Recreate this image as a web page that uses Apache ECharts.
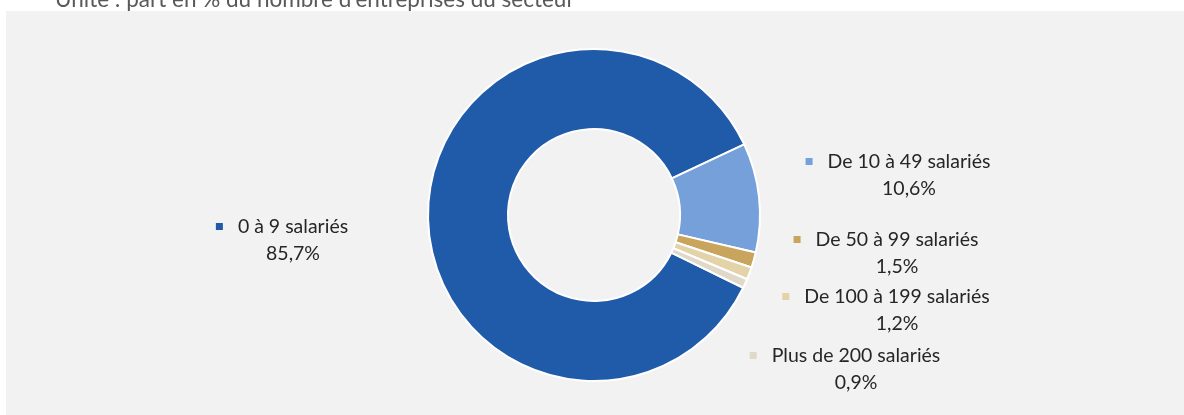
<!DOCTYPE html>
<html>
<head>
<meta charset="utf-8">
<script src="https://cdn.jsdelivr.net/npm/echarts@6/dist/echarts.min.js"></script>
<style>
html,body{margin:0;padding:0;background:#fff;}
#chart{width:1184px;height:415px;}
</style>
</head>
<body>
<div id="chart"></div>
<script>
const categories = ['0 à 9 salariés', 'De 10 à 49 salariés', 'De 50 à 99 salariés', 'De 100 à 199 salariés', 'Plus de 200 salariés'];
const values = [85.7, 10.6, 1.5, 1.2, 0.9];
const colors = ['#205BAA', '#75A0DA', '#C8A45C', '#E4D3A8', '#E0D9CA'];
const subtitle = "Unité : part en % du nombre d'entreprises du secteur";

const labelPos = [
  {x: 282, y: 240},
  {x: 898, y: 175},
  {x: 886, y: 253},
  {x: 886, y: 310},
  {x: 845, y: 369}
];

const FONT = 'Lato';
const FS = 19.5;
const LH = 27;
const OFF = 22;

const chart = echarts.init(document.getElementById('chart'));
const rich = {
  n: {fontFamily: FONT, fontSize: FS, color: '#262626', lineHeight: LH, padding: [0, 0, 0, OFF - 7]},
  v: {fontFamily: FONT, fontSize: FS, color: '#262626', lineHeight: LH, padding: [0, 0, 0, OFF]}
};
colors.forEach((c, i) => {
  rich['m' + i] = {width: 7, height: 7, backgroundColor: c, lineHeight: LH};
});

chart.setOption({
  animation: false,
  backgroundColor: '#ffffff',
  graphic: [
    {type: 'rect', shape: {x: 6, y: 11, width: 1178, height: 404}, style: {fill: '#F2F2F2'}, z: -10, silent: true},
    {type: 'text', x: 55, y: -0.5, style: {text: subtitle, fontFamily: FONT, fontSize: 22.5, fill: '#595959', verticalAlign: 'middle'}, silent: true}
  ],
  series: [{
    type: 'pie',
    center: [594, 215],
    radius: [86, 166],
    startAngle: -26,
    clockwise: true,
    avoidLabelOverlap: false,
    itemStyle: {borderColor: '#ffffff', borderWidth: 2},
    label: {
      show: true,
      position: 'outside',
      align: 'center',
      rich: rich,
      formatter: function (p) {
        return '{m' + p.dataIndex + '| }{n|' + p.name + '}\n{v|' + p.value.toFixed(1).replace('.', ',') + '%}';
      }
    },
    labelLine: {show: false},
    labelLayout: function (params) {
      const pos = labelPos[params.dataIndex];
      return {x: pos.x, y: pos.y, align: 'center', verticalAlign: 'middle', hideOverlap: false};
    },
    emphasis: {disabled: true},
    data: categories.map((c, i) => ({name: c, value: values[i], itemStyle: {color: colors[i]}}))
  }]
});
</script>
</body>
</html>
